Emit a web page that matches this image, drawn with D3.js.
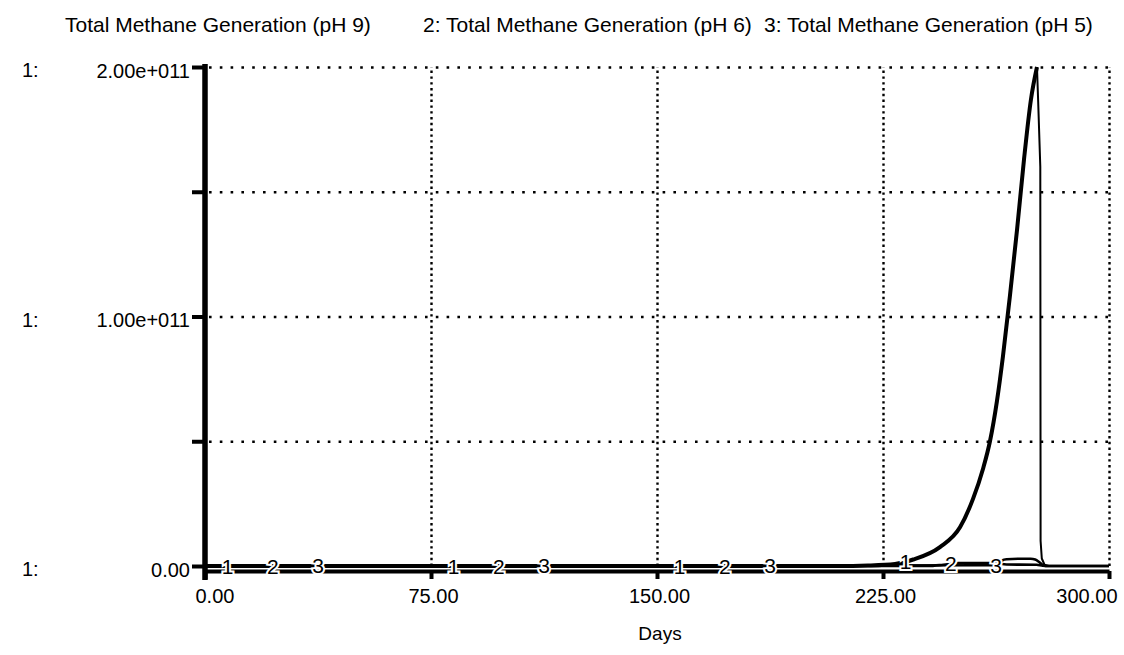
<!DOCTYPE html>
<html>
<head>
<meta charset="utf-8">
<script src="https://cdn.jsdelivr.net/npm/d3@7"></script>
<style>
  html, body { margin: 0; padding: 0; background: #fff; }
  svg { display: block; font-family: "Liberation Sans", Arial, sans-serif; }
</style>
</head>
<body>
<svg id="chart" width="1124" height="655"></svg>
<script>
// ---- data ----
const seriesNames = ["Total Methane Generation (pH 9)", "2: Total Methane Generation (pH 6)", "3: Total Methane Generation (pH 5)"];
const s1Days = [0, 210, 220, 229, 235, 243.9, 250.6, 254.9, 258.2, 260.5, 262.8, 264.8, 267.1, 269.5, 271.8, 274.1, 276.1, 276.5, 277.2, 277.3, 277.7, 278.6, 280, 300];
const s1Vals = [0, 0, 0.2e9, 0.8e9, 2.6e9, 7.6e9, 1.56e10, 2.7e10, 3.9e10, 5.0e10, 6.6e10, 8.4e10, 1.08e11, 1.35e11, 1.63e11, 1.87e11, 2.0e11, 1.86e11, 1.6e11, 1.0e10, 3.0e9, 0.5e9, 0, 0];
const s1PeakIndex = 16;
const s2Days = [0, 240, 245, 250, 262, 266, 276, 278, 280, 300];
const s2Vals = [0, 0, 0.5e9, 1.2e9, 1.2e9, 0.6e9, 0.5e9, 0.1e9, 0, 0];
const s3Days = [0, 263, 264.5, 266, 270, 274, 275.5, 276.8, 278, 279, 300];
const s3Vals = [0, 0.3e9, 2.2e9, 2.7e9, 2.9e9, 2.9e9, 2.6e9, 1.6e9, 0.4e9, 0, 0];
const labelDayOffsets = [7.5, 22.5, 37.5];
const labelGroupStarts = [0, 75, 150, 225];
const xTicks = [0, 75, 150, 225, 300];
const xTickLabels = ["0.00", "75.00", "150.00", "225.00", "300.00"];
const yTicks = [0, 0.5e11, 1e11, 1.5e11, 2e11];
const yTickLabels = ["0.00", "", "1.00e+011", "", "2.00e+011"];
const xTitle = "Days";

// ---- layout ----
const svg = d3.select("#chart");
const x = d3.scaleLinear().domain([0, 300]).range([205, 1109]);
const y = d3.scaleLinear().domain([0, 2e11]).range([566, 67]);
const W = x.range()[1] - x.range()[0];
const H = y.range()[0] - y.range()[1];

// horizontal dotted grid
const gy = svg.append("g").attr("transform", `translate(${x(0)},0)`)
  .call(d3.axisLeft(y).tickValues(yTicks.slice(1)).tickSize(-W).tickFormat(""));
gy.select(".domain").remove();
gy.selectAll(".tick line").attr("stroke", "#000").attr("stroke-width", 2.6)
  .attr("stroke-dasharray", "2.6 8.2").attr("stroke-linecap", "butt")
  .attr("x1", 4);

// vertical dotted grid
const gx = svg.append("g").attr("transform", `translate(0,${y(0)})`)
  .call(d3.axisBottom(x).tickValues(xTicks.slice(1)).tickSize(-H).tickFormat(""));
gx.select(".domain").remove();
gx.selectAll(".tick line").attr("stroke", "#000").attr("stroke-width", 2.4)
  .attr("stroke-dasharray", "2.4 3.4");

// series lines
const line = d3.line().x(d => x(d[0])).y(d => y(d[1]));
const smooth = d3.line().x(d => x(d[0])).y(d => y(d[1])).curve(d3.curveMonotoneX);
const zip = (a, b) => a.map((d, i) => [d, b[i]]);
const s1 = zip(s1Days, s1Vals), s2 = zip(s2Days, s2Vals), s3 = zip(s3Days, s3Vals);

svg.append("path").datum(s3).attr("d", smooth).attr("fill", "none").attr("stroke", "#000").attr("stroke-width", 2.6).attr("stroke-linejoin", "round");
svg.append("path").datum(s2).attr("d", smooth).attr("fill", "none").attr("stroke", "#000").attr("stroke-width", 2.6).attr("stroke-linejoin", "round");
svg.append("path").datum(s1.slice(0, s1PeakIndex + 1)).attr("d", smooth).attr("fill", "none").attr("stroke", "#000").attr("stroke-width", 4).attr("stroke-linejoin", "round");
svg.append("path").datum(s1.slice(s1PeakIndex)).attr("d", line).attr("fill", "none").attr("stroke", "#000").attr("stroke-width", 2).attr("stroke-linejoin", "round");

// x axis (bottom frame line with ticks)
const xa = svg.append("g").attr("transform", `translate(0,${y(0) + 5})`)
  .call(d3.axisBottom(x).tickValues(xTicks).tickSize(8).tickSizeOuter(0).tickPadding(10)
    .tickFormat((d, i) => xTickLabels[i]));
xa.select(".domain").attr("stroke", "#000").attr("stroke-width", 4);
xa.selectAll(".tick line").attr("stroke", "#000").attr("stroke-width", 4);
xa.selectAll(".tick text").attr("fill", "#000").attr("font-size", 20)
  .attr("font-family", "Liberation Sans, Arial, sans-serif")
  .attr("text-anchor", (d, i) => i === 0 ? "start" : (i === xTicks.length - 1 ? "end" : "middle"))
  .attr("dx", (d, i) => i === 0 ? -10 : (i === xTicks.length - 1 ? 8 : 2));

// y axis
const ya = svg.append("g").attr("transform", `translate(${x(0)},0)`)
  .call(d3.axisLeft(y).tickValues(yTicks).tickSize(13).tickSizeOuter(0).tickPadding(2)
    .tickFormat((d, i) => yTickLabels[i]));
ya.select(".domain").attr("stroke", "#000").attr("stroke-width", 5.5)
  .attr("d", `M0,${y(2e11) - 3}V${y(0) + 14}`);
ya.selectAll(".tick line").attr("stroke", "#000").attr("stroke-width", 4);
ya.selectAll(".tick text").attr("fill", "#000").attr("font-size", 20)
  .attr("font-family", "Liberation Sans, Arial, sans-serif").attr("dy", "0.5em");

// "1:" scale markers
svg.append("g").selectAll("text").data(yTicks.filter((d, i) => yTickLabels[i] !== ""))
  .join("text").attr("x", 22).attr("y", d => y(d)).attr("dy", "0.5em")
  .attr("font-size", 20).attr("fill", "#000").text("1:");

// series labels on lines
function valueAt(days, vals, d) {
  const i = d3.bisectRight(days, d);
  if (i <= 0) return vals[0];
  if (i >= days.length) return vals[vals.length - 1];
  const t = (d - days[i - 1]) / (days[i] - days[i - 1]);
  return vals[i - 1] + t * (vals[i] - vals[i - 1]);
}
const seriesData = [[s1Days, s1Vals], [s2Days, s2Vals], [s3Days, s3Vals]];
const labels = [];
labelGroupStarts.forEach(g => labelDayOffsets.forEach((o, k) => {
  const day = g + o;
  labels.push({ k, day, v: valueAt(seriesData[k][0], seriesData[k][1], day) });
}));
svg.append("g").selectAll("text").data(labels).join("text")
  .attr("x", d => x(d.day)).attr("y", d => y(d.v)).attr("dy", "0.36em")
  .attr("text-anchor", "middle").attr("font-size", 21).attr("fill", "#000")
  .attr("stroke", "#fff").attr("stroke-width", 4).attr("paint-order", "stroke")
  .text(d => String(d.k + 1));

// legend / titles
const titleX = [65, 423, 764];
svg.append("g").selectAll("text").data(seriesNames).join("text")
  .attr("x", (d, i) => titleX[i]).attr("y", 32).attr("font-size", 21).attr("fill", "#000")
  .text(d => d);

// x title
svg.append("text").attr("x", (x(0) + x(300)) / 2 + 3).attr("y", 640)
  .attr("text-anchor", "middle").attr("font-size", 19).attr("fill", "#000").text(xTitle);
</script>
</body>
</html>
